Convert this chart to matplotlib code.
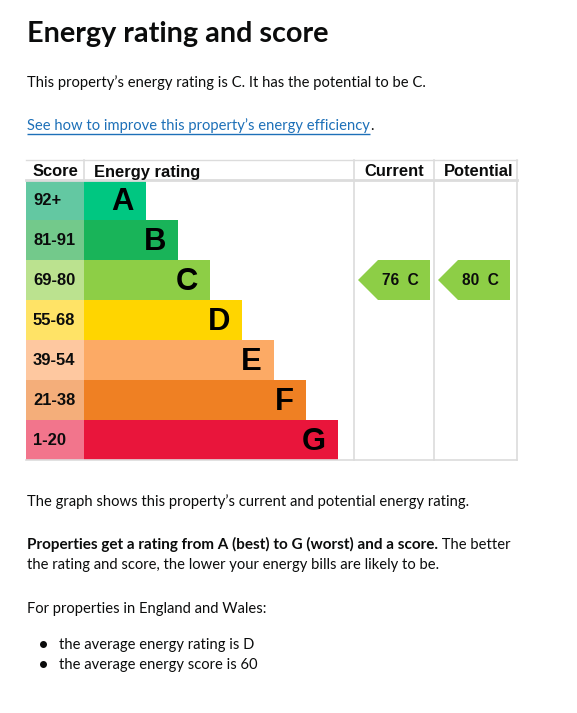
import matplotlib
matplotlib.use("Agg")
import matplotlib.pyplot as plt
from matplotlib.patches import Polygon

# ---------------- data ----------------
ratings = ["A", "B", "C", "D", "E", "F", "G"]
score_bands = ["92+", "81-91", "69-80", "55-68", "39-54", "21-38", "1-20"]
band_low = [92, 81, 69, 55, 39, 21, 1]
bar_lengths = [62, 94, 126, 158, 190, 222, 254]
bar_colors = ["#00c781", "#19b459", "#8dce46", "#ffd500", "#fcaa65", "#ef8023", "#e9153b"]
score_colors = ["#63c8a2", "#73c98b", "#bbe28f", "#ffe366", "#fec8a0", "#f4ae7a", "#f2758c"]
current_score = 76
potential_score = 80
header_labels = ["Score", "Energy rating", "Current", "Potential"]

TITLE = "Energy rating and score"
INTRO = "This property\u2019s energy rating is C. It has the potential to be C."
LINK = "See how to improve this property\u2019s energy efficiency"
P1 = "The graph shows this property\u2019s current and potential energy rating."
P2_BOLD = "Properties get a rating from A (best) to G (worst) and a score."
P2_REST = " The better"
P2_LINE2 = "the rating and score, the lower your energy bills are likely to be."
P3 = "For properties in England and Wales:"
BULLETS = ["the average energy rating is D", "the average energy score is 60"]

W, H = 577, 713
fig = plt.figure(figsize=(W / 100, H / 100), dpi=100)
fig.patch.set_facecolor("white")

bg = fig.add_axes([0, 0, 1, 1])
bg.set_xlim(0, W)
bg.set_ylim(H, 0)
bg.axis("off")

body_font = "Lato"
chart_font = "Liberation Sans"
ink = "#0b0c0c"

def px(p):
    return p * 72 / 100

BS = 14.8   # regular body text (px)
BB = 15.3   # bold body text (px)
bg.text(27, 42, TITLE, fontsize=px(28.8), fontweight="bold", family=body_font,
        color=ink, va="baseline", ha="left")
bg.text(27, 87, INTRO, fontsize=px(BS), family=body_font, color=ink, va="baseline")
link = bg.text(27, 130, LINK, fontsize=px(BS), family=body_font, color="#1d70b8", va="baseline")

fig.canvas.draw()
r = fig.canvas.get_renderer()
inv = bg.transData.inverted()

def right_edge(t):
    bb = t.get_window_extent(renderer=r)
    return inv.transform((bb.x1, bb.y0))[0]

lx1 = right_edge(link)
bg.plot([27, lx1], [134, 134], color="#1d70b8", lw=1.0, solid_capstyle="butt")
bg.text(lx1, 130, ".", fontsize=px(BS), family=body_font, color=ink, va="baseline")

bg.text(27, 506, P1, fontsize=px(BS), family=body_font, color=ink, va="baseline")
b = bg.text(27, 549, P2_BOLD, fontsize=px(BB), family=body_font, fontweight="bold",
            color=ink, va="baseline")
fig.canvas.draw()
bx1 = right_edge(b)
bg.text(bx1, 549, P2_REST, fontsize=px(BS), family=body_font, color=ink, va="baseline")
bg.text(27, 569, P2_LINE2, fontsize=px(BS), family=body_font, color=ink, va="baseline")
bg.text(27, 613, P3, fontsize=px(BS), family=body_font, color=ink, va="baseline")
for i, s in enumerate(BULLETS):
    y = 649 + 20 * i
    bg.plot([43], [y - 5], marker="o", ms=4.0, color=ink)
    bg.text(59, y, s, fontsize=px(BS), family=body_font, color=ink, va="baseline")

# ---------------- chart axes ----------------
L, R, T, B = 26, 517, 160, 460
ax = fig.add_axes([L / W, (H - B) / H, (R - L) / W, (B - T) / H])
ax.set_xlim(0, R - L)
ax.set_ylim(len(ratings), -0.5)
ax.axis("off")

score_w = 58
ys = [i + 0.5 for i in range(len(ratings))]
ax.barh(ys, [score_w] * len(ratings), left=0, height=1.0, color=score_colors, lw=0)
ax.barh(ys, bar_lengths, left=score_w, height=1.0, color=bar_colors, lw=0)

CS = 16.5
for i, (lab, let, bl) in enumerate(zip(score_bands, ratings, bar_lengths)):
    ax.text(7, ys[i] + 0.02, lab, fontsize=px(CS), fontweight="bold", family=chart_font,
            color=ink, va="center", ha="left")
    ax.text(score_w + bl - 12, ys[i] + 0.05, let, fontsize=px(31), fontweight="bold",
            family=chart_font, color="black", va="center", ha="right")

line_c = "#dcdcdc"
col_cur = 328
col_pot = 408
col_end = R - L
ax.plot([0, col_end], [-0.5, -0.5], color=line_c, lw=1.0, clip_on=False)
ax.plot([0, col_end], [0, 0], color=line_c, lw=2.0, clip_on=False)
ax.plot([0, col_end], [len(ratings), len(ratings)], color=line_c, lw=1.2, clip_on=False)
ax.plot([score_w, score_w], [-0.5, 0], color=line_c, lw=1.2, clip_on=False)
for xv in (col_cur, col_pot, col_end):
    ax.plot([xv, xv], [-0.5, len(ratings)], color=line_c, lw=1.2, clip_on=False)

hy = -0.2
ax.text(score_w / 2, hy, header_labels[0], fontsize=px(CS), fontweight="bold",
        family=chart_font, color=ink, ha="center", va="center")
ax.text(score_w + 10, hy, header_labels[1], fontsize=px(CS), fontweight="bold",
        family=chart_font, color=ink, ha="left", va="center")
ax.text((col_cur + col_pot) / 2, hy, header_labels[2], fontsize=px(CS), fontweight="bold",
        family=chart_font, color=ink, ha="center", va="center")
ax.text((col_pot + col_end) / 2 + 3, hy, header_labels[3], fontsize=px(CS), fontweight="bold",
        family=chart_font, color=ink, ha="center", va="center")

def band_of(score):
    for i, lo in enumerate(band_low):
        if score >= lo:
            return i
    return len(band_low) - 1

def arrow(col_left, score):
    i = band_of(score)
    tip = col_left + 4
    shoulder = tip + 20
    right = tip + 72
    poly = Polygon([(tip, i + 0.5), (shoulder, i), (right, i), (right, i + 1),
                    (shoulder, i + 1)], closed=True, facecolor=bar_colors[i], lw=0)
    ax.add_patch(poly)
    ax.text(tip + 42, i + 0.52, f"{score}  {ratings[i]}", fontsize=px(15.5), fontweight="bold",
            family=chart_font, color=ink, ha="center", va="center")

arrow(col_cur, current_score)
arrow(col_pot, potential_score)

fig.savefig("out.png", dpi=100, facecolor="white")
